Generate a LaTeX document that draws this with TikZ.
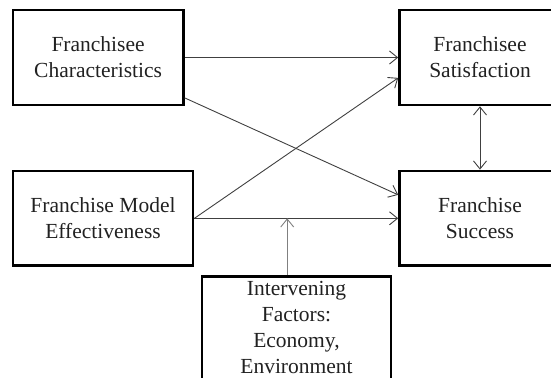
\documentclass[tikz,border=0pt]{standalone}
\usepackage{fontspec}
\setmainfont{Liberation Serif}
\usepackage{tikz}
\usetikzlibrary{calc}
\usetikzlibrary{arrows.meta}
\definecolor{textgray}{rgb}{0.13,0.13,0.13}
\definecolor{linegray}{rgb}{0.25,0.25,0.25}

\begin{document}
\begin{tikzpicture}[x=1bp, y=-1bp,
		box/.style={draw, line width=2.6bp, align=center, inner sep=0pt, text=textgray,
			font=\fontsize{21.5bp}{26bp}\selectfont},
		link/.style={draw=linegray, line width=0.9bp, -{Straight Barb[length=8bp,width=13bp]}}]
			\useasboundingbox (0,0) rectangle (551,377);
			\clip (0,0) rectangle (551,377);
			
			\node[box, minimum width=170.4bp, minimum height=95bp] (chars) at (98.1,57.5) {Franchisee\\Characteristics};
			\node[box, minimum width=180.3bp, minimum height=94.7bp] (model) at (103,218.3) {Franchise Model\\Effectiveness};
			\node[box, minimum width=161bp, minimum height=95bp] (satis) at (480,57.5) {Franchisee\\Satisfaction};
			\node[box, minimum width=161bp, minimum height=94.7bp] (success) at (480,218.3) {Franchise\\Success};
			\node[box, minimum width=189bp, anchor=north, inner ysep=5bp] (factors) at (296.5,275) {Intervening\\Factors:\\Economy,\\Environment\rule[-20bp]{0pt}{0pt}};
			
			\coordinate (foot) at ($(factors.north)+(-9.3,0)$);
			\coordinate (hit) at (foot |- model.east);
			
			\draw[link] (chars.east) -- (satis.west);
			\draw[link] (chars.-25) -- (success.164.5);
			\draw[link] (model.east) -- (satis.194.5);
			\draw[link] (model.east) -- (success.west);
			\draw[link, {Straight Barb[length=8bp,width=13bp]}-{Straight Barb[length=8bp,width=13bp]}] (satis.south) -- (success.north);
			\draw[link, draw=gray] (foot) -- (hit);
		\end{tikzpicture}
\end{document}
